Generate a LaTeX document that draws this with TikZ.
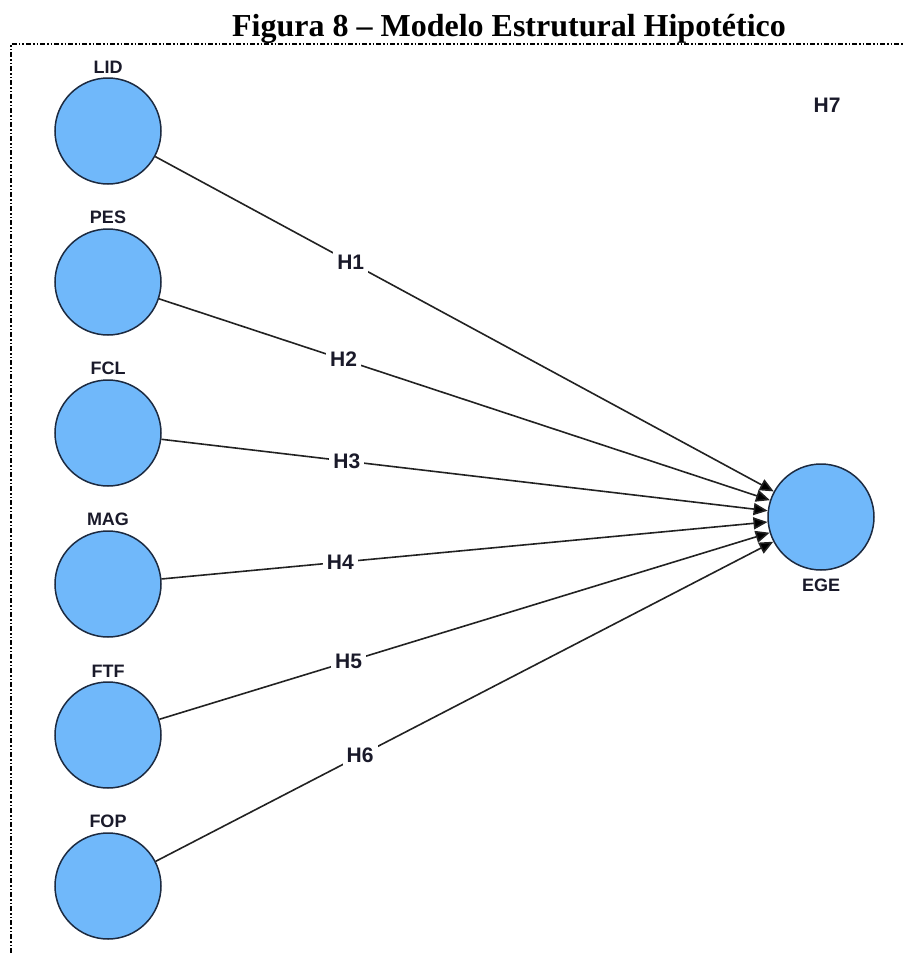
\documentclass[tikz,border=0pt]{standalone}
\usepackage{fontspec}
\setmainfont{Liberation Serif}
\newfontfamily\labelsans{Liberation Sans}
\usetikzlibrary{arrows.meta}
\definecolor{latentfill}{HTML}{70B8FA}
\definecolor{latentline}{HTML}{1C2A40}
\definecolor{pathline}{HTML}{222222}
\definecolor{hyptext}{HTML}{1A1A2A}
\begin{document}
\begin{tikzpicture}[x=1pt,y=-1pt,
  latent/.style={circle, draw=latentline, line width=1.5pt, fill=latentfill,
    minimum size=106pt, inner sep=0pt},
  vname/.style={font=\labelsans\bfseries\fontsize{18}{20}\selectfont, text=hyptext, inner sep=0pt},
  hyp/.style={font=\labelsans\bfseries\fontsize{21}{24}\selectfont, text=hyptext, fill=white,
    inner sep=4pt},
  path arrow/.style={draw=pathline, line width=1.6pt,
    -{Triangle[length=14pt,width=12pt,fill=black]}},
  frame/.style={line width=1.8pt,
    dash pattern=on 5pt off 2pt on 1.5pt off 2pt on 1.5pt off 2pt}]
\useasboundingbox (0,0) rectangle (903,953);

% title
\node[anchor=base, font=\bfseries\fontsize{32}{36}\selectfont] (title) at (509,36)
  {Figura 8 -- Modelo Estrutural Hipotético};

% dash-dotted frame (only left and top edges fall inside the page)
\draw[frame] (11,953) -- (11,44) -- (903,44);

% latent variables
\node[latent] (lid) at (108,131) {};
\node[latent] (pes) at (108,282) {};
\node[latent] (fcl) at (108,433) {};
\node[latent] (mag) at (108,584) {};
\node[latent] (ftf) at (108,735) {};
\node[latent] (fop) at (108,886) {};
\node[latent] (ege) at (821,517) {};

\node[vname, anchor=south] (lidname) at ([yshift=4pt]lid.north) {LID};
\node[vname, anchor=south] (pesname) at ([yshift=4pt]pes.north) {PES};
\node[vname, anchor=south] (fclname) at ([yshift=4pt]fcl.north) {FCL};
\node[vname, anchor=south] (magname) at ([yshift=4pt]mag.north) {MAG};
\node[vname, anchor=south] (ftfname) at ([yshift=4pt]ftf.north) {FTF};
\node[vname, anchor=south] (fopname) at ([yshift=4pt]fop.north) {FOP};
\node[vname, anchor=north] (egename) at ([yshift=-8pt]ege.south) {EGE};

% structural paths
\draw[path arrow] (lid) -- node[hyp, pos=0.316] (h1) {H1} (ege);
\draw[path arrow] (pes) -- node[hyp, pos=0.302] (h2) {H2} (ege);
\draw[path arrow] (fcl) -- node[hyp, pos=0.306] (h3) {H3} (ege);
\draw[path arrow] (mag) -- node[hyp, pos=0.295] (h4) {H4} (ege);
\draw[path arrow] (ftf) -- node[hyp, pos=0.310] (h5) {H5} (ege);
\draw[path arrow] (fop) -- node[hyp, pos=0.331] (h6) {H6} (ege);

\node[hyp] (h7) at (827,105) {H7};
\end{tikzpicture}
\end{document}
